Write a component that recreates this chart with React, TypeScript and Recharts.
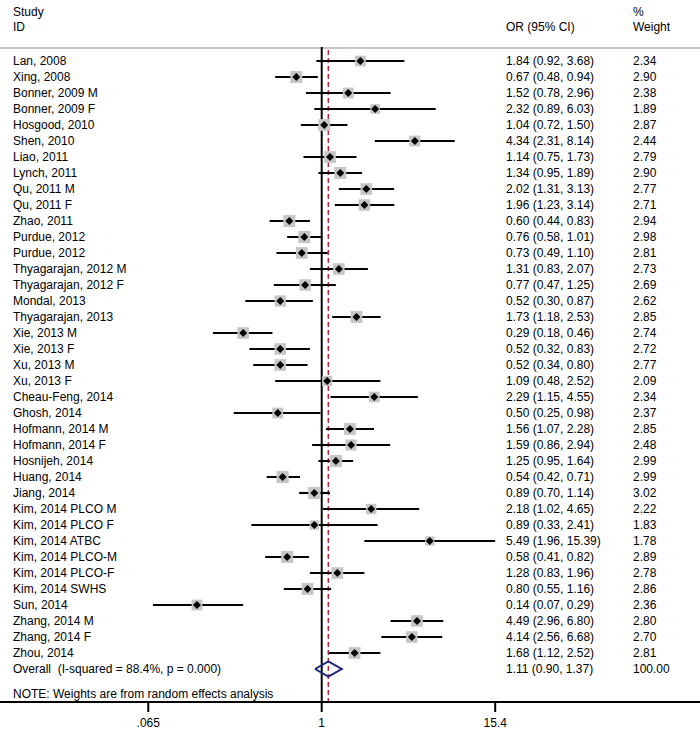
import { ScatterChart, Scatter, XAxis, YAxis, ErrorBar, ReferenceLine } from "recharts";

const studies = [
  "Lan, 2008", "Xing, 2008", "Bonner, 2009 M", "Bonner, 2009 F", "Hosgood, 2010", "Shen, 2010",
  "Liao, 2011", "Lynch, 2011", "Qu, 2011 M", "Qu, 2011 F", "Zhao, 2011", "Purdue, 2012", "Purdue, 2012",
  "Thyagarajan, 2012 M", "Thyagarajan, 2012 F", "Mondal, 2013", "Thyagarajan, 2013", "Xie, 2013 M",
  "Xie, 2013 F", "Xu, 2013 M", "Xu, 2013 F", "Cheau-Feng, 2014", "Ghosh, 2014", "Hofmann, 2014 M",
  "Hofmann, 2014 F", "Hosnijeh, 2014", "Huang, 2014", "Jiang, 2014", "Kim, 2014 PLCO M",
  "Kim, 2014 PLCO F", "Kim, 2014 ATBC", "Kim, 2014 PLCO-M", "Kim, 2014 PLCO-F", "Kim, 2014 SWHS",
  "Sun, 2014", "Zhang, 2014 M", "Zhang, 2014 F", "Zhou, 2014",
];
const oddsRatio = [
  1.84, 0.67, 1.52, 2.32, 1.04, 4.34, 1.14, 1.34, 2.02, 1.96, 0.6, 0.76, 0.73, 1.31, 0.77, 0.52, 1.73, 0.29,
  0.52, 0.52, 1.09, 2.29, 0.5, 1.56, 1.59, 1.25, 0.54, 0.89, 2.18, 0.89, 5.49, 0.58, 1.28, 0.8, 0.14, 4.49,
  4.14, 1.68,
];
const lower = [
  0.92, 0.48, 0.78, 0.89, 0.72, 2.31, 0.75, 0.95, 1.31, 1.23, 0.44, 0.58, 0.49, 0.83, 0.47, 0.3, 1.18, 0.18,
  0.32, 0.34, 0.48, 1.15, 0.25, 1.07, 0.86, 0.95, 0.42, 0.7, 1.02, 0.33, 1.96, 0.41, 0.83, 0.55, 0.07, 2.96,
  2.56, 1.12,
];
const upper = [
  3.68, 0.94, 2.96, 6.03, 1.5, 8.14, 1.73, 1.89, 3.13, 3.14, 0.83, 1.01, 1.1, 2.07, 1.25, 0.87, 2.53, 0.46,
  0.83, 0.8, 2.52, 4.55, 0.98, 2.28, 2.94, 1.64, 0.71, 1.14, 4.65, 2.41, 15.39, 0.82, 1.96, 1.16, 0.29, 6.8,
  6.68, 2.52,
];
const weights = [
  2.34, 2.9, 2.38, 1.89, 2.87, 2.44, 2.79, 2.9, 2.77, 2.71, 2.94, 2.98, 2.81, 2.73, 2.69, 2.62, 2.85, 2.74,
  2.72, 2.77, 2.09, 2.34, 2.37, 2.85, 2.48, 2.99, 2.99, 3.02, 2.22, 1.83, 1.78, 2.89, 2.78, 2.86, 2.36, 2.8,
  2.7, 2.81,
];
const overall = { or: 1.11, lo: 0.9, hi: 1.37, label: "Overall  (I-squared = 88.4%, p = 0.000)" };
const xTicks = [0.065, 1, 15.4];
const xTickLabels = [".065", "1", "15.4"];
const note = "NOTE: Weights are from random effects analysis";

const W = 700;
const H = 732;
const XMIN = 0.00628;
const XMAX = 388.4;
const YMIN = -3.8125;
const YMAX = 40.0625;
const COL_ID = 13;
const COL_OR = 506;
const COL_WT = 633;
const FONT = "'Liberation Sans', Arial, sans-serif";
const RED = "#b22a35";
const NAVY = "#1f2580";

const fmt = (v: number) => v.toFixed(2);

const rows = studies.map((s, i) => ({
  row: i,
  or: oddsRatio[i],
  err: [oddsRatio[i] - lower[i], upper[i] - oddsRatio[i]],
  w: weights[i],
}));

const OVERALL_ROW = studies.length;
const diamond = [
  { or: overall.lo, row: OVERALL_ROW },
  { or: overall.or, row: OVERALL_ROW - 0.47 },
  { or: overall.hi, row: OVERALL_ROW },
  { or: overall.or, row: OVERALL_ROW + 0.47 },
  { or: overall.lo, row: OVERALL_ROW },
];

// text columns (study id, OR text, weight), one entry per text row
const textRows = [
  { or: 1, row: -3.06, cols: ["Study", "", "%"] },
  { or: 1, row: -2.125, cols: ["ID", "OR (95% CI)", "Weight"] },
  ...studies.map((s, i) => ({
    or: 1,
    row: i,
    cols: [s, `${fmt(oddsRatio[i])} (${fmt(lower[i])}, ${fmt(upper[i])})`, fmt(weights[i])],
  })),
  {
    or: 1,
    row: OVERALL_ROW,
    cols: [overall.label, `${fmt(overall.or)} (${fmt(overall.lo)}, ${fmt(overall.hi)})`, "100.00"],
  },
  { or: 1, row: 39.56, cols: [note, "", ""] },
];

const TextRow = (props: any) => {
  const xs = [COL_ID, COL_OR, COL_WT];
  return (
    <g>
      {props.payload.cols.map((t: string, k: number) =>
        t ? (
          <text
            key={k}
            x={xs[k]}
            y={props.cy}
            dy="0.35em"
            fontSize={12}
            fontFamily={FONT}
            fill="#000"
            style={{ whiteSpace: "pre" }}
          >
            {t}
          </text>
        ) : null
      )}
    </g>
  );
};

const Box = (props: any) => {
  const s = 7 * Math.sqrt(props.payload.w);
  return <rect x={props.cx - s / 2} y={props.cy - s / 2} width={s} height={s} fill="#c6c6c6" />;
};

const Dot = (props: any) => (
  <polygon
    points={`${props.cx - 4},${props.cy} ${props.cx},${props.cy - 4} ${props.cx + 4},${props.cy} ${props.cx},${props.cy + 4}`}
    fill="#000"
  />
);

export default function App() {
  return (
    <div style={{ position: "absolute", left: 0, top: 0, background: "#fff" }}>
      <ScatterChart width={W} height={H} margin={{ top: 0, right: 0, bottom: 0, left: 0 }}>
        <XAxis
          type="number"
          dataKey="or"
          scale="log"
          domain={[XMIN, XMAX]}
          allowDataOverflow
          ticks={xTicks}
          tickFormatter={(v: number) => xTickLabels[xTicks.indexOf(v)]}
          height={30}
          tickSize={10}
          tickMargin={6}
          stroke="#000"
          strokeWidth={2}
          tick={{ fill: "#000", fontSize: 12, fontFamily: FONT }}
          interval={0}
        />
        <YAxis type="number" dataKey="row" reversed domain={[YMIN, YMAX]} allowDataOverflow hide />
        <ReferenceLine y={-0.8125} stroke="#c8c8c8" strokeWidth={2} />
        <ReferenceLine
          segment={[{ x: 1, y: -0.875 }, { x: 1, y: YMAX }]}
          stroke="#000"
          strokeWidth={2}
        />
        <ReferenceLine
          segment={[{ x: overall.or, y: -0.69 }, { x: overall.or, y: YMAX }]}
          stroke={RED}
          strokeWidth={1.5}
          strokeDasharray="5 3"
        />
        <Scatter data={rows} shape={<Box />} isAnimationActive={false} />
        <Scatter data={rows} shape={<Dot />} isAnimationActive={false}>
          <ErrorBar dataKey="err" direction="x" width={0} stroke="#000" strokeWidth={2.2} />
        </Scatter>
        <Scatter
          data={diamond}
          line={{ stroke: NAVY, strokeWidth: 2 }}
          shape={() => <g />}
          isAnimationActive={false}
        />
        <Scatter data={textRows} shape={<TextRow />} isAnimationActive={false} />
      </ScatterChart>
    </div>
  );
}
